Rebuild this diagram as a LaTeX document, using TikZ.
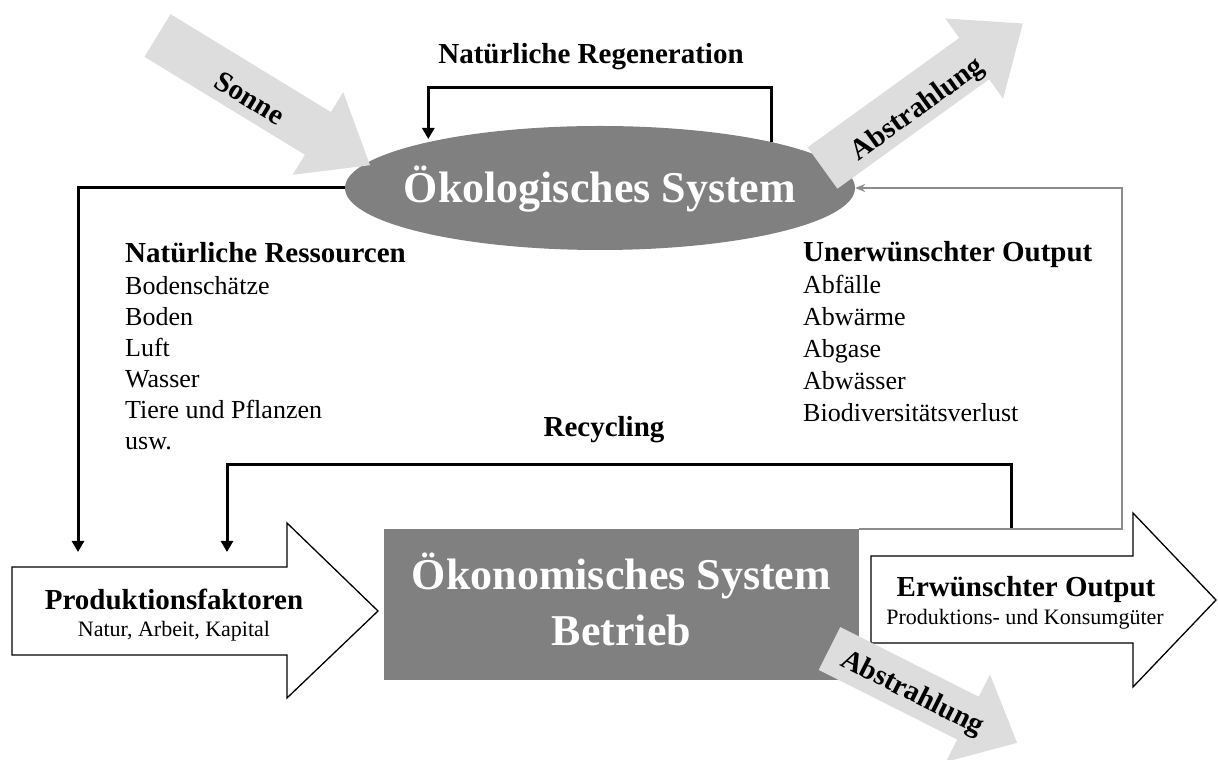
\documentclass[tikz,border=0pt]{standalone}
\usepackage{fontspec}
\setmainfont{Liberation Serif}
\usetikzlibrary{arrows.meta,shapes.geometric}
\definecolor{sysgray}{HTML}{808080}
\definecolor{raygray}{HTML}{DDDDDD}
\definecolor{backgray}{HTML}{8C8C8C}

\begin{document}
\begin{tikzpicture}[x=1pt, y=1pt,
    flow/.style={draw=black, line width=3pt, -{Triangle[width=12pt,length=11pt]}},
    back/.style={draw=backgray, line width=1.5pt, -{Stealth[width=8pt,length=10pt]}},
    ray/.style={fill=raygray},
    fat/.style={draw=black, line width=1.3pt, fill=white},
    head/.style={font=\fontsize{29}{31}\selectfont\bfseries, inner sep=0pt},
    item/.style={font=\fontsize{26}{31}\selectfont, anchor=base west, inner sep=0pt},
    sub/.style={font=\fontsize{22}{26}\selectfont, anchor=base, inner sep=0pt},
    big/.style={font=\fontsize{44}{56}\selectfont\bfseries, text=white, anchor=base, inner sep=0pt}]
  \useasboundingbox (0,0) rectangle (1218,760);

  % the two systems
  \node[ellipse, fill=sysgray, minimum width=510, minimum height=124, inner sep=0pt] (eco) at (600,572) {};
  \node[fill=sysgray, minimum width=475, minimum height=151, inner sep=0pt] (econ) at (621.5,155.5) {};

  % input and output arrows
  \draw[fat] (12,193) -- (287,193) -- (287,237) -- (378,149) -- (287,62) -- (287,105) -- (12,105) -- cycle;
  \draw[fat] (871,204) -- (1133,204) -- (1133,247) -- (1216,160) -- (1133,73) -- (1133,117) -- (871,117) -- cycle;

  \coordinate (pf1) at (78,208);
  \coordinate (pf2) at (227,208);
  \coordinate (regtop) at (600,672);
  \coordinate (recfoot) at (1011,231);
  \coordinate (recturn) at (227,295);
  \coordinate (backturn) at (1122,572);

  % connectors
  \draw[flow] (eco.west) -| (pf1);
  \draw[flow, shorten >=3pt] (eco.15.7) |- (regtop) -| (eco.165.3);
  \draw[flow] (recfoot) |- (recturn) -- (pf2);
  \draw[back] (econ.north east) -| (backturn) -- (eco.east);

  % radiation
  \begin{scope}[shift={(157.5,724.5)}, rotate=-31.4]
    \fill[ray] (0,25) -- (188,25) -- (188,48.5) -- (249,0) -- (188,-48.5) -- (188,-25) -- (0,-25) -- cycle;
  \end{scope}
  \begin{scope}[shift={(822.5,592)}, rotate=35.8]
    \fill[ray] (0,25.5) -- (187,25.5) -- (187,49.5) -- (247,0) -- (187,-49.5) -- (187,-25.5) -- (0,-25.5) -- cycle;
  \end{scope}
  \begin{scope}[shift={(829.5,111.5)}, rotate=-26.7]
    \fill[ray] (0,24) -- (155,24) -- (155,49) -- (210,0) -- (155,-49) -- (155,-24) -- (0,-24) -- cycle;
  \end{scope}

  \node[head, rotate=-31.4] (sun) at (250,662) {Sonne};
  \node[head, rotate=35.8] (rad1) at (918,650) {Abstrahlung};
  \node[head, rotate=-26.7] (rad2) at (912,66) {Abstrahlung};

  % labels
  \node[big] (ecolabel) at (600,557) {Ökologisches System};
  \node[big] (econlabel1) at (621.5,170) {Ökonomisches System};
  \node[big] (econlabel2) at (621.5,114) {Betrieb};

  \node[head, anchor=base] (regen) at (591,696) {Natürliche Regeneration};
  \node[head, anchor=base] (recycle) at (604,323) {Recycling};

  \node[head, anchor=base west] (resources) at (125,497) {Natürliche Ressourcen};
  \foreach \t [count=\i from 0] in {Bodenschätze,Boden,Luft,Wasser,Tiere und Pflanzen,usw.}
    \node[item] (res\i) at (125,465-31*\i) {\t};

  \node[head, anchor=base west] (waste) at (803,498) {Unerwünschter Output};
  \foreach \t [count=\i from 0] in {Abfälle,Abwärme,Abgase,Abwässer,Biodiversitätsverlust}
    \node[item] (out\i) at (803,466-32*\i) {\t};

  \node[head, anchor=base] (factors) at (174,150) {Produktionsfaktoren};
  \node[sub] (factorsub) at (174,123) {Natur, Arbeit, Kapital};
  \node[head, anchor=base] (goods) at (1026,163) {Erwünschter Output};
  \node[sub] (goodssub) at (1025,135) {Produktions- und Konsumgüter};
\end{tikzpicture}
\end{document}
